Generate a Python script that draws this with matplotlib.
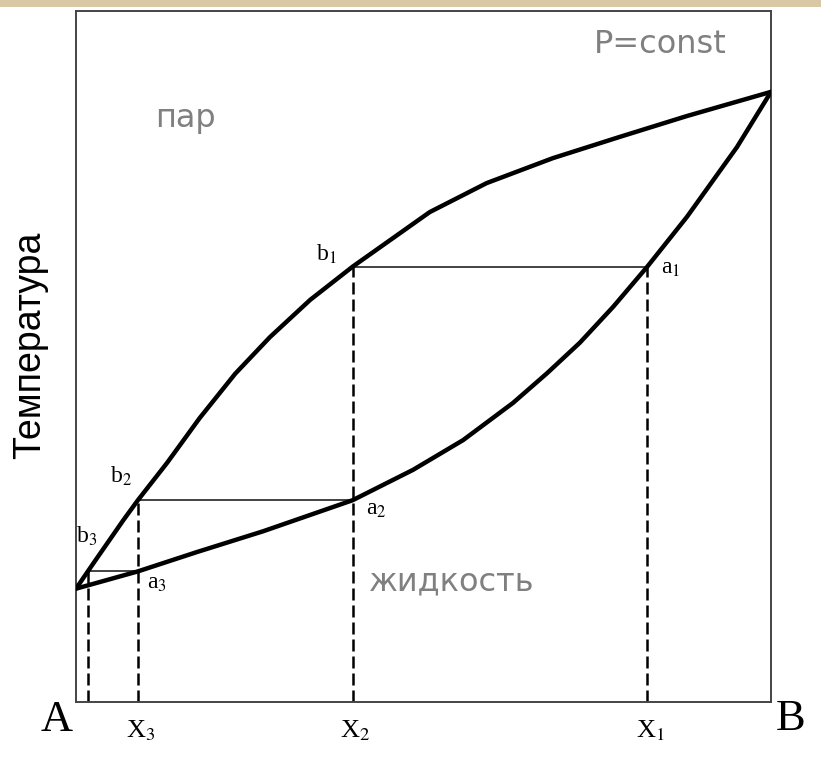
import numpy as np
import matplotlib.pyplot as plt
from matplotlib.patches import Rectangle

plt.rcParams['mathtext.fontset'] = 'stix'

# кривая пара (верхняя) и кривая жидкости (нижняя), состав 0..100, температура 0..100
x_vap = [0, 1.7, 3.0, 6.8, 8.9, 13.1, 17.8, 22.9, 27.9, 33.7, 39.8, 50.9, 59.1, 68.6, 78.3, 87.9, 100]
T_vap = [16.4, 18.9, 20.8, 26.3, 29.2, 34.6, 41.1, 47.5, 52.8, 58.2, 63.0, 70.9, 75.1, 78.7, 81.8, 84.8, 88.3]
x_liq = [0, 8.9, 17.4, 26.9, 39.8, 48.5, 55.7, 62.9, 67.8, 72.5, 77.3, 82.2, 87.9, 95.1, 100]
T_liq = [16.4, 18.9, 21.7, 24.7, 29.2, 33.6, 37.9, 43.3, 47.6, 52.0, 57.2, 63.0, 70.2, 80.3, 88.3]

# конноды b-a
tie_T = [63.0, 29.2, 18.9]
tie_xb = [39.8, 8.9, 1.7]
tie_xa = [82.2, 39.8, 8.9]
b_labels = ['b$_1$', 'b$_2$', 'b$_3$']
a_labels = ['a$_1$', 'a$_2$', 'a$_3$']

# вертикальные пунктиры и подписи составов
drop_x = [1.7, 8.9, 39.8, 82.2]
drop_T = [18.9, 29.2, 63.0, 63.0]
x_ticks = [8.9, 39.8, 82.2]
x_tick_labels = ['X$_3$', 'X$_2$', 'X$_1$']

fig = plt.figure(figsize=(8.21, 7.62), dpi=100)
fig.patch.set_facecolor('white')
# полоска фона сверху
fig.patches.append(Rectangle((0, 1 - 7 / 762), 1, 7 / 762, transform=fig.transFigure,
                             facecolor='#d8c8a6', edgecolor='none'))

ax = fig.add_axes([76 / 821, 60 / 762, 695 / 821, 691 / 762])
ax.set_xlim(0, 100)
ax.set_ylim(0, 100)
ax.set_xticks([])
ax.set_yticks([])
for s in ax.spines.values():
    s.set_color('#444444')
    s.set_linewidth(1.4)

serif = 'Liberation Serif'

for T, xb, xa in zip(tie_T, tie_xb, tie_xa):
    ax.plot([xb, xa], [T, T], color='#222222', lw=1.2, zorder=2)

for x, T in zip(drop_x, drop_T):
    ax.plot([x, x], [0, T], color='black', lw=1.8, dashes=(4.8, 2.0), zorder=2)

ax.plot(x_vap, T_vap, color='black', lw=3.2, solid_joinstyle='round', solid_capstyle='round', zorder=3)
ax.plot(x_liq, T_liq, color='black', lw=3.2, solid_joinstyle='round', solid_capstyle='round', zorder=3)

b_off = [(-19, 9), (-12, 17), (-1, 25)]
a_off = [(17, -1), (17, -7), (14, -9)]
for i in range(3):
    ax.annotate(b_labels[i], (tie_xb[i], tie_T[i]), xytext=b_off[i], textcoords='offset points',
                ha='center', va='center', fontsize=17, family=serif)
    ax.annotate(a_labels[i], (tie_xa[i], tie_T[i]), xytext=a_off[i], textcoords='offset points',
                ha='center', va='center', fontsize=17, family=serif)

for x, lab in zip(x_ticks, x_tick_labels):
    ax.annotate(lab, (x, 0), xytext=(2, -21), textcoords='offset points',
                ha='center', va='center', fontsize=19, family=serif)

ax.annotate('A', (0, 0), xytext=(-14, -13), textcoords='offset points',
            ha='center', va='center', fontsize=32, family=serif)
ax.annotate('B', (100, 0), xytext=(14, -12), textcoords='offset points',
            ha='center', va='center', fontsize=32, family=serif)

grey = '#808080'
ax.text(84.0, 95.1, 'P=const', ha='center', va='center', fontsize=23, color=grey)
ax.text(15.8, 84.5, 'пар', ha='center', va='center', fontsize=23, color=grey)
ax.text(54.1, 17.4, 'жидкость', ha='center', va='center', fontsize=23, color=grey)

fig.text(30 / 821, 1 - 345 / 762, 'Температура', rotation=90, ha='center', va='center',
         fontsize=27, family='Liberation Sans')

fig.savefig('out.png', dpi=100)
